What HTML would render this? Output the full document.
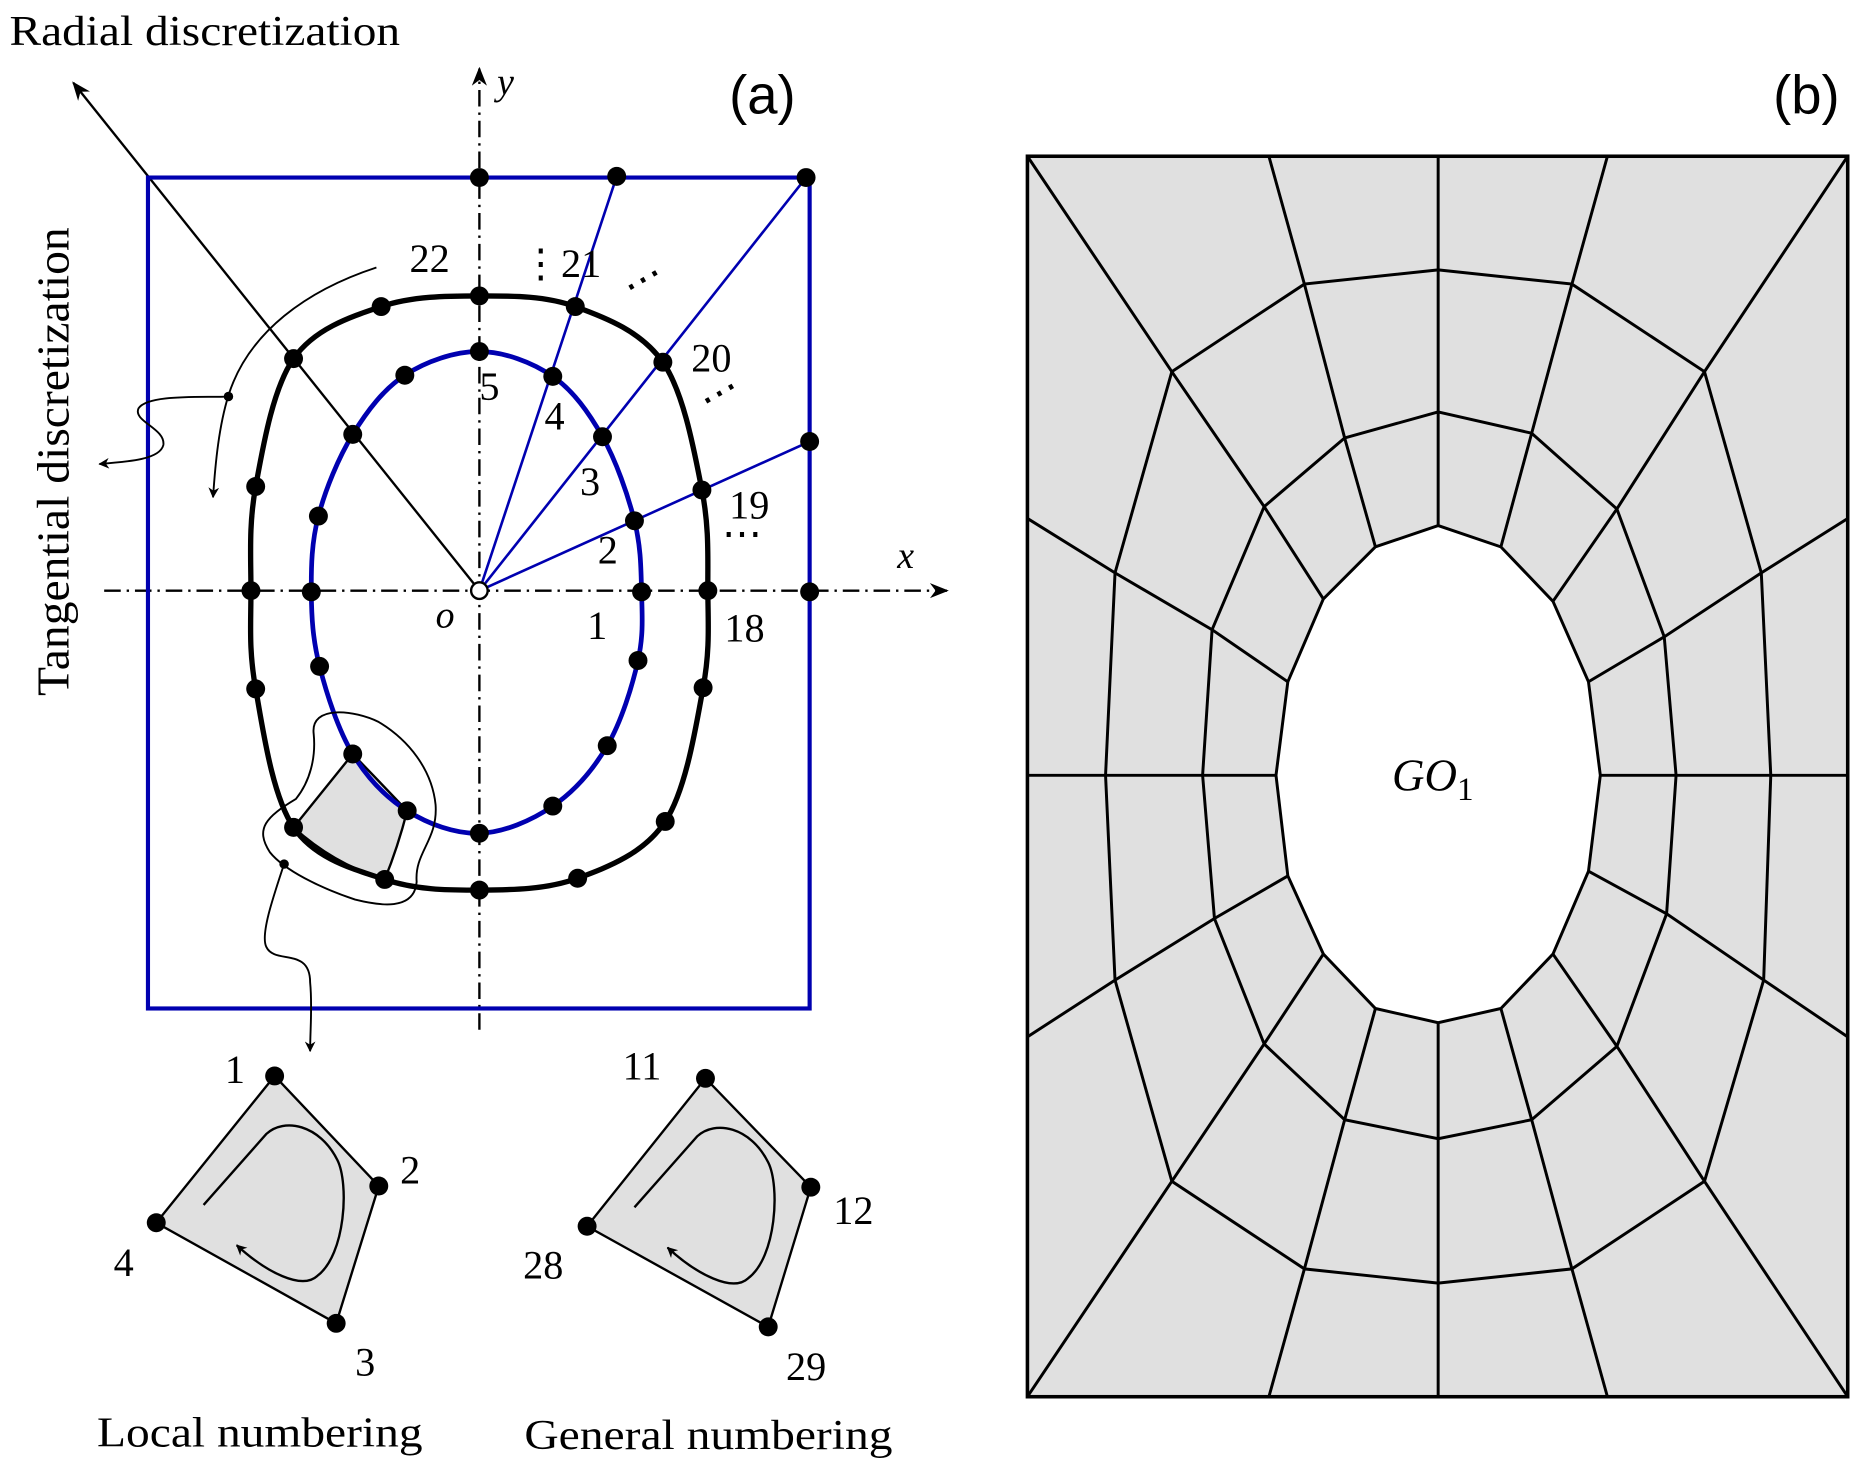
<!DOCTYPE html>
<html><head><style>html,body{margin:0;padding:0;background:#fff}svg{display:block}</style></head>
<body>
<svg id="s" width="1856" height="1472" viewBox="0 0 1568 1243.6" xmlns="http://www.w3.org/2000/svg" font-family="'Liberation Serif',serif">
<defs>
<marker id="ar" viewBox="0 0 10 10" refX="9" refY="5" markerWidth="9" markerHeight="9" orient="auto" markerUnits="userSpaceOnUse"><path d="M0,0 L10,5 L0,10 L3,5z" fill="#000"/></marker>
<marker id="ar2" viewBox="0 0 10 10" refX="9" refY="5" markerWidth="16" markerHeight="16" orient="auto" markerUnits="userSpaceOnUse"><path d="M0,1 L10,5 L0,9 L3,5z" fill="#000"/></marker>
</defs>
<!-- panel b -->
<rect x="868" y="132" width="693" height="1048" fill="#e0e0e0" stroke="#000" stroke-width="3"/>
<g id="mesh" stroke="#000" stroke-width="2.5" fill="none"></g>
<text x="1176" y="668" font-size="38" font-style="italic">GO<tspan font-size="28" font-style="normal" dy="8">1</tspan></text>
<text x="1498" y="96" font-size="46" font-family="'Liberation Sans',sans-serif">(b)</text>

<!-- panel a -->
<text x="8" y="38" font-size="36" textLength="330" lengthAdjust="spacingAndGlyphs">Radial discretization</text>
<text x="616" y="96" font-size="46" font-family="'Liberation Sans',sans-serif">(a)</text>
<text transform="translate(58,588) rotate(-90)" font-size="38" textLength="396" lengthAdjust="spacingAndGlyphs">Tangential discretization</text>
<line x1="405" y1="870" x2="405" y2="58" stroke="#000" stroke-width="2" stroke-dasharray="14,5,2,5" marker-end="url(#ar2)"/>
<line x1="88" y1="499" x2="800" y2="499" stroke="#000" stroke-width="2" stroke-dasharray="14,5,2,5" marker-end="url(#ar2)"/>
<text x="420" y="80" font-size="32" font-style="italic">y</text>
<text x="758" y="480" font-size="32" font-style="italic">x</text>
<text x="368" y="530" font-size="32" font-style="italic">o</text>
<line x1="405" y1="499" x2="62" y2="70" stroke="#000" stroke-width="2" marker-end="url(#ar2)"/>
<g stroke="#0000b0" stroke-width="2.2"><line x1="405" y1="499" x2="521" y2="149"/><line x1="405" y1="499" x2="681" y2="150"/><line x1="405" y1="499" x2="684" y2="373"/></g>
<path d="M298,637 L344,685 Q336,716 325,743 Q282,730 248,699 Z" fill="#e0e0e0" stroke="#000" stroke-width="2"/>
<rect x="125" y="150" width="559" height="702" fill="none" stroke="#0000b0" stroke-width="3.5"/>
<path id="inner" fill="none" stroke="#0000b0" stroke-width="4"/>
<path id="outer" fill="none" stroke="#000" stroke-width="4.5"/>
<path d="M265,620 C262,595 300,600 320,610 C345,625 365,650 368,680 C370,710 350,720 352,745 C350,770 320,765 300,760 C270,750 240,735 228,720 C215,700 225,690 250,675 C262,660 267,640 265,620Z" fill="none" stroke="#000" stroke-width="1.6"/>
<circle cx="240" cy="730" r="4"/>
<path d="M240,730 C230,760 220,790 225,800 C232,815 262,800 262,830 C264,850 262,870 262,888" fill="none" stroke="#000" stroke-width="1.6" marker-end="url(#ar)"/>
<path d="M318,226 C260,245 210,280 193,334 C185,360 182,390 180,420" fill="none" stroke="#000" stroke-width="1.6" marker-end="url(#ar)"/>
<circle cx="193" cy="335" r="4"/>
<path d="M193,335 C170,336 125,333 117,345 C112,356 140,362 138,376 C135,388 110,390 84,392" fill="none" stroke="#000" stroke-width="1.6" marker-end="url(#ar)"/>
<g id="dots"></g>
<circle cx="405" cy="499" r="7" fill="#fff" stroke="#000" stroke-width="2"/>
<g font-size="34">
<text x="346" y="230">22</text><text x="440" y="234">⋮21</text><text x="530" y="250" transform="rotate(-30 540 245)">⋯</text>
<text x="584" y="314">20</text><text x="594" y="346" transform="rotate(-30 604 340)">⋯</text>
<text x="616" y="438">19</text><text x="610" y="462">⋯</text><text x="612" y="542">18</text>
<text x="405" y="338">5</text><text x="460" y="363">4</text><text x="490" y="418">3</text><text x="505" y="476">2</text><text x="496" y="540">1</text>
</g>
<path d="M232,909 L320,1002 L284,1118 L132,1033Z" fill="#e0e0e0" stroke="#000" stroke-width="2"/>
<path d="M172,1018 L225,958 C240,944 270,950 285,980 C295,1000 292,1060 268,1078 C255,1090 225,1075 200,1052" fill="none" stroke="#000" stroke-width="2" marker-end="url(#ar)"/>
<path d="M596,911 L685,1003 L649,1121 L496,1036Z" fill="#e0e0e0" stroke="#000" stroke-width="2"/>
<path d="M536,1020 L589,960 C604,946 634,952 649,982 C659,1002 656,1062 632,1080 C619,1092 589,1077 564,1054" fill="none" stroke="#000" stroke-width="2" marker-end="url(#ar)"/>
<g fill="#000"><circle cx="232" cy="909" r="8"/><circle cx="320" cy="1002" r="8"/><circle cx="284" cy="1118" r="8"/><circle cx="132" cy="1033" r="8"/>
<circle cx="596" cy="911" r="8"/><circle cx="685" cy="1003" r="8"/><circle cx="649" cy="1121" r="8"/><circle cx="496" cy="1036" r="8"/></g>
<g font-size="34">
<text x="190" y="915">1</text><text x="338" y="1000">2</text><text x="300" y="1162">3</text><text x="96" y="1078">4</text>
<text x="526" y="912">11</text><text x="704" y="1034">12</text><text x="664" y="1166">29</text><text x="442" y="1080">28</text>
</g>
<g font-size="36">
<text x="82" y="1222" textLength="275" lengthAdjust="spacingAndGlyphs">Local numbering</text><text x="443" y="1224" textLength="311" lengthAdjust="spacingAndGlyphs">General numbering</text>
</g>
</svg>
<script>
const NS="http://www.w3.org/2000/svg";
function cr(p){let d=`M${p[0][0]},${p[0][1]}`;const n=p.length;for(let i=0;i<n;i++){const p0=p[(i-1+n)%n],p1=p[i],p2=p[(i+1)%n],p3=p[(i+2)%n];
d+=` C${p1[0]+(p2[0]-p0[0])/6},${p1[1]+(p2[1]-p0[1])/6} ${p2[0]-(p3[0]-p1[0])/6},${p2[1]-(p3[1]-p1[1])/6} ${p2[0]},${p2[1]}`;}return d+"Z";}
const inner=[[405,297],[467,318],[509,369],[536,440],[542,500],[539,558],[513,630],[467,681],[405,704],[344,685],[298,637],[270,563],[263,500],[269,436],[298,367],[342,317]];
const outer=[[405,250],[486,259],[560,306],[593,414],[598,499],[594,581],[562,694],[488,742],[405,752],[325,743],[248,699],[216,582],[212,499],[216,411],[248,303],[322,259]];
document.getElementById('inner').setAttribute('d',cr(inner));
document.getElementById('outer').setAttribute('d',cr(outer));
const dg=document.getElementById('dots');
inner.concat(outer,[[405,150],[521,149],[681,150],[684,373],[684,500]]).forEach(p=>{const c=document.createElementNS(NS,'circle');c.setAttribute('cx',p[0]);c.setAttribute('cy',p[1]);c.setAttribute('r',8);dg.appendChild(c);});
const R=[
[[1215,444],[1268,462],[1312,508],[1342,576],[1352,655],[1342,736],[1312,806],[1268,852],[1215,864],[1162,852],[1118,806],[1088,740],[1078,655],[1088,576],[1118,506],[1162,462]],
[[1215,348],[1294,366],[1366,430],[1406,538],[1416,655],[1408,772],[1366,884],[1294,946],[1215,962],[1136,946],[1068,882],[1026,776],[1016,655],[1024,532],[1068,428],[1136,370]],
[[1215,228],[1328,240],[1440,314],[1488,484],[1496,655],[1490,828],[1440,998],[1328,1072],[1215,1084],[1102,1072],[990,998],[942,828],[934,655],[942,484],[990,314],[1102,240]],
[[1215,132],[1358,132],[1561,132],[1561,438],[1561,655],[1561,876],[1561,1180],[1358,1180],[1215,1180],[1072,1180],[868,1180],[868,876],[868,655],[868,438],[868,132],[1072,132]]];
const mg=document.getElementById('mesh');
function add(tag,a){const e=document.createElementNS(NS,tag);for(const k in a)e.setAttribute(k,a[k]);mg.appendChild(e);}
add('polygon',{points:R[0].map(p=>p.join(',')).join(' '),fill:'#fff'});
for(let r=1;r<3;r++)add('polygon',{points:R[r].map(p=>p.join(',')).join(' ')});
for(let i=0;i<16;i++)add('polyline',{points:R.map(r=>r[i].join(',')).join(' ')});
</script>
</body></html>
